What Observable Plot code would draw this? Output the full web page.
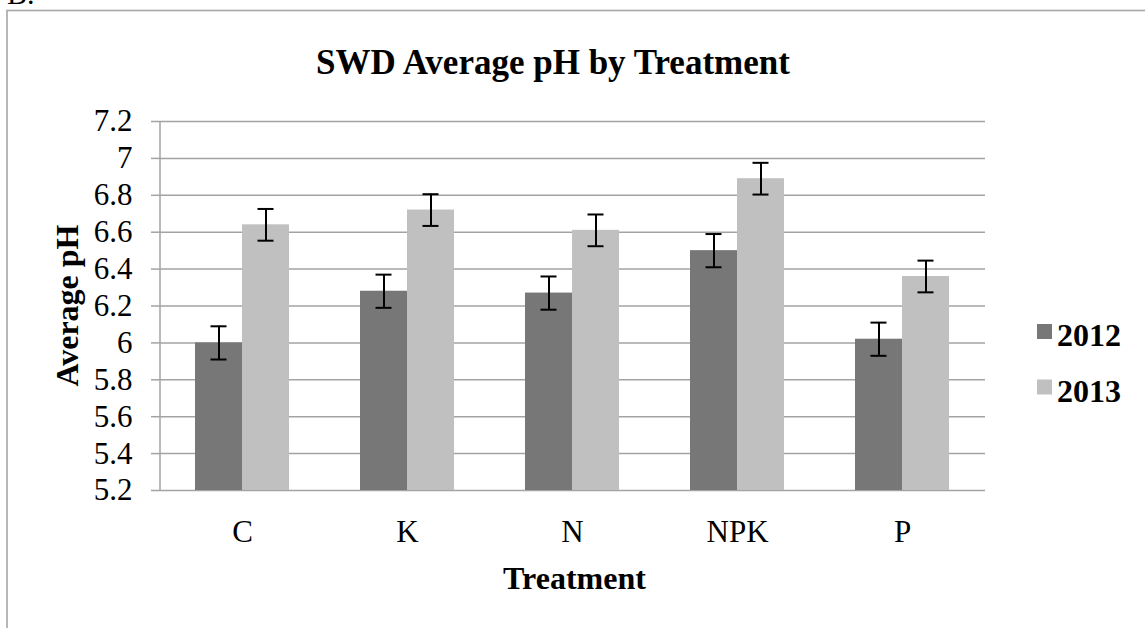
<!DOCTYPE html>
<html>
<head>
<meta charset="utf-8">
<script src="https://cdn.jsdelivr.net/npm/d3@7"></script>
<script src="https://cdn.jsdelivr.net/npm/@observablehq/plot@0.6"></script>
<style>
  html, body { margin: 0; padding: 0; background: #ffffff; }
  #chart { width: 1145px; height: 628px; overflow: hidden; }
</style>
</head>
<body>
<div id="chart"></div>
<script>
const chartTitle = "SWD Average pH by Treatment";
const xTitle = "Treatment";
const yTitle = "Average pH";
const panelLabel = "B.";
const treatments = ["C", "K", "N", "NPK", "P"];
const years = ["2012", "2013"];
const ph2012 = [6.00, 6.28, 6.27, 6.50, 6.02];
const ph2013 = [6.64, 6.72, 6.61, 6.89, 6.36];
const err2012 = [0.09, 0.09, 0.09, 0.09, 0.09];
const err2013 = [0.086, 0.086, 0.086, 0.086, 0.086];
const yTicks = [5.2, 5.4, 5.6, 5.8, 6.0, 6.2, 6.4, 6.6, 6.8, 7.0, 7.2];
const yTickLabels = ["5.2", "5.4", "5.6", "5.8", "6", "6.2", "6.4", "6.6", "6.8", "7", "7.2"];
const yearColors = ["#777777", "#c0c0c0"];

const series = [ph2012, ph2013];
const errs = [err2012, err2013];
const rows = [];
years.forEach((yr, j) => treatments.forEach((t, i) => rows.push({
  treatment: t, year: yr, value: series[j][i], err: errs[j][i]
})));
const rows2012 = rows.filter(d => d.year === "2012");
const rows2013 = rows.filter(d => d.year === "2013");

const W = 1145, H = 628;
const mL = 160, mR = 160, mT = 121, mB = 138;
const serif = "'Liberation Serif', 'Times New Roman', Times, serif";
const gridColor = "#a3a3a3";

const barHalf = 47;   // half of the group width
const capInOuter = 15.5, capInInner = 62.5;

const chart = Plot.plot({
  width: W, height: H,
  marginLeft: mL, marginRight: mR, marginTop: mT, marginBottom: mB,
  style: { fontFamily: serif, background: "transparent", color: "#000" },
  x: { domain: treatments, paddingInner: 0.43, paddingOuter: 0.215 },
  y: { domain: [5.2, 7.2] },
  color: { domain: years, range: yearColors },
  marks: [
    Plot.gridY(yTicks, { stroke: gridColor, strokeOpacity: 1, strokeWidth: 1.5 }),
    Plot.barY(rows2012, { x: "treatment", y1: 5.2, y2: "value", fill: "year", insetRight: barHalf }),
    Plot.barY(rows2013, { x: "treatment", y1: 5.2, y2: "value", fill: "year", insetLeft: barHalf }),
    Plot.ruleX(rows2012, { x: "treatment", y1: d => d.value - d.err, y2: d => d.value + d.err, dx: -barHalf / 2, stroke: "#000", strokeWidth: 2 }),
    Plot.ruleX(rows2013, { x: "treatment", y1: d => d.value - d.err, y2: d => d.value + d.err, dx: barHalf / 2, stroke: "#000", strokeWidth: 2 }),
    Plot.tickY(rows2012, { x: "treatment", y: d => d.value - d.err, insetLeft: capInOuter, insetRight: capInInner, stroke: "#000", strokeWidth: 2 }),
    Plot.tickY(rows2012, { x: "treatment", y: d => d.value + d.err, insetLeft: capInOuter, insetRight: capInInner, stroke: "#000", strokeWidth: 2 }),
    Plot.tickY(rows2013, { x: "treatment", y: d => d.value - d.err, insetLeft: capInInner, insetRight: capInOuter, stroke: "#000", strokeWidth: 2 }),
    Plot.tickY(rows2013, { x: "treatment", y: d => d.value + d.err, insetLeft: capInInner, insetRight: capInOuter, stroke: "#000", strokeWidth: 2 }),
    Plot.axisY({ ticks: yTicks, tickFormat: d => yTickLabels[yTicks.indexOf(d)], tickSize: 9, tickPadding: 19,
      stroke: gridColor, strokeWidth: 1.5, fill: "#000", fontSize: 31, label: null }),
    Plot.axisX({ tickSize: 0, tickPadding: 29, fill: "#000", fontSize: 31, label: null })
  ]
});

document.getElementById("chart").appendChild(chart);

const svg = d3.select(chart).style("overflow", "hidden");
const ys = chart.scale("y");

// outer chart frame (extends past the right/bottom edges)
svg.insert("rect", ":first-child")
  .attr("x", 7).attr("y", 10.5).attr("width", 1300).attr("height", 800)
  .attr("fill", "none").attr("stroke", "#a6a6a6").attr("stroke-width", 1.6);

// panel label, mostly cut off at the top as in the reference
svg.append("text").attr("x", 7).attr("y", 4).attr("text-anchor", "start")
  .style("font-family", serif).style("font-size", "30px").attr("fill", "#000").text(panelLabel);

// vertical value axis line
svg.append("line")
  .attr("x1", mL).attr("x2", mL)
  .attr("y1", ys.apply(7.2)).attr("y2", ys.apply(5.2))
  .attr("stroke", gridColor).attr("stroke-width", 1.5);

// title
svg.append("text").attr("x", 553).attr("y", 74).attr("text-anchor", "middle")
  .style("font-family", serif).style("font-size", "35px").style("font-weight", "bold")
  .attr("fill", "#000").text(chartTitle);

// axis titles
svg.append("text").attr("x", (mL + W - mR) / 2 + 2).attr("y", 589).attr("text-anchor", "middle")
  .style("font-family", serif).style("font-size", "32px").style("font-weight", "bold")
  .attr("fill", "#000").text(xTitle);

svg.append("text").attr("transform", `translate(78,${(ys.apply(7.2) + ys.apply(5.2)) / 2}) rotate(-90)`)
  .attr("text-anchor", "middle")
  .style("font-family", serif).style("font-size", "32px").style("font-weight", "bold")
  .attr("fill", "#000").text(yTitle);

// legend
const leg = svg.append("g");
years.forEach((yr, i) => {
  leg.append("rect").attr("x", 1037).attr("y", 324 + i * 55.5).attr("width", 15).attr("height", 15)
    .attr("fill", chart.scale("color").apply(yr));
  leg.append("text").attr("x", 1057).attr("y", 346 + i * 55.5).attr("text-anchor", "start")
    .style("font-family", serif).style("font-size", "32px").style("font-weight", "bold")
    .attr("fill", "#000").text(yr);
});
</script>
</body>
</html>
